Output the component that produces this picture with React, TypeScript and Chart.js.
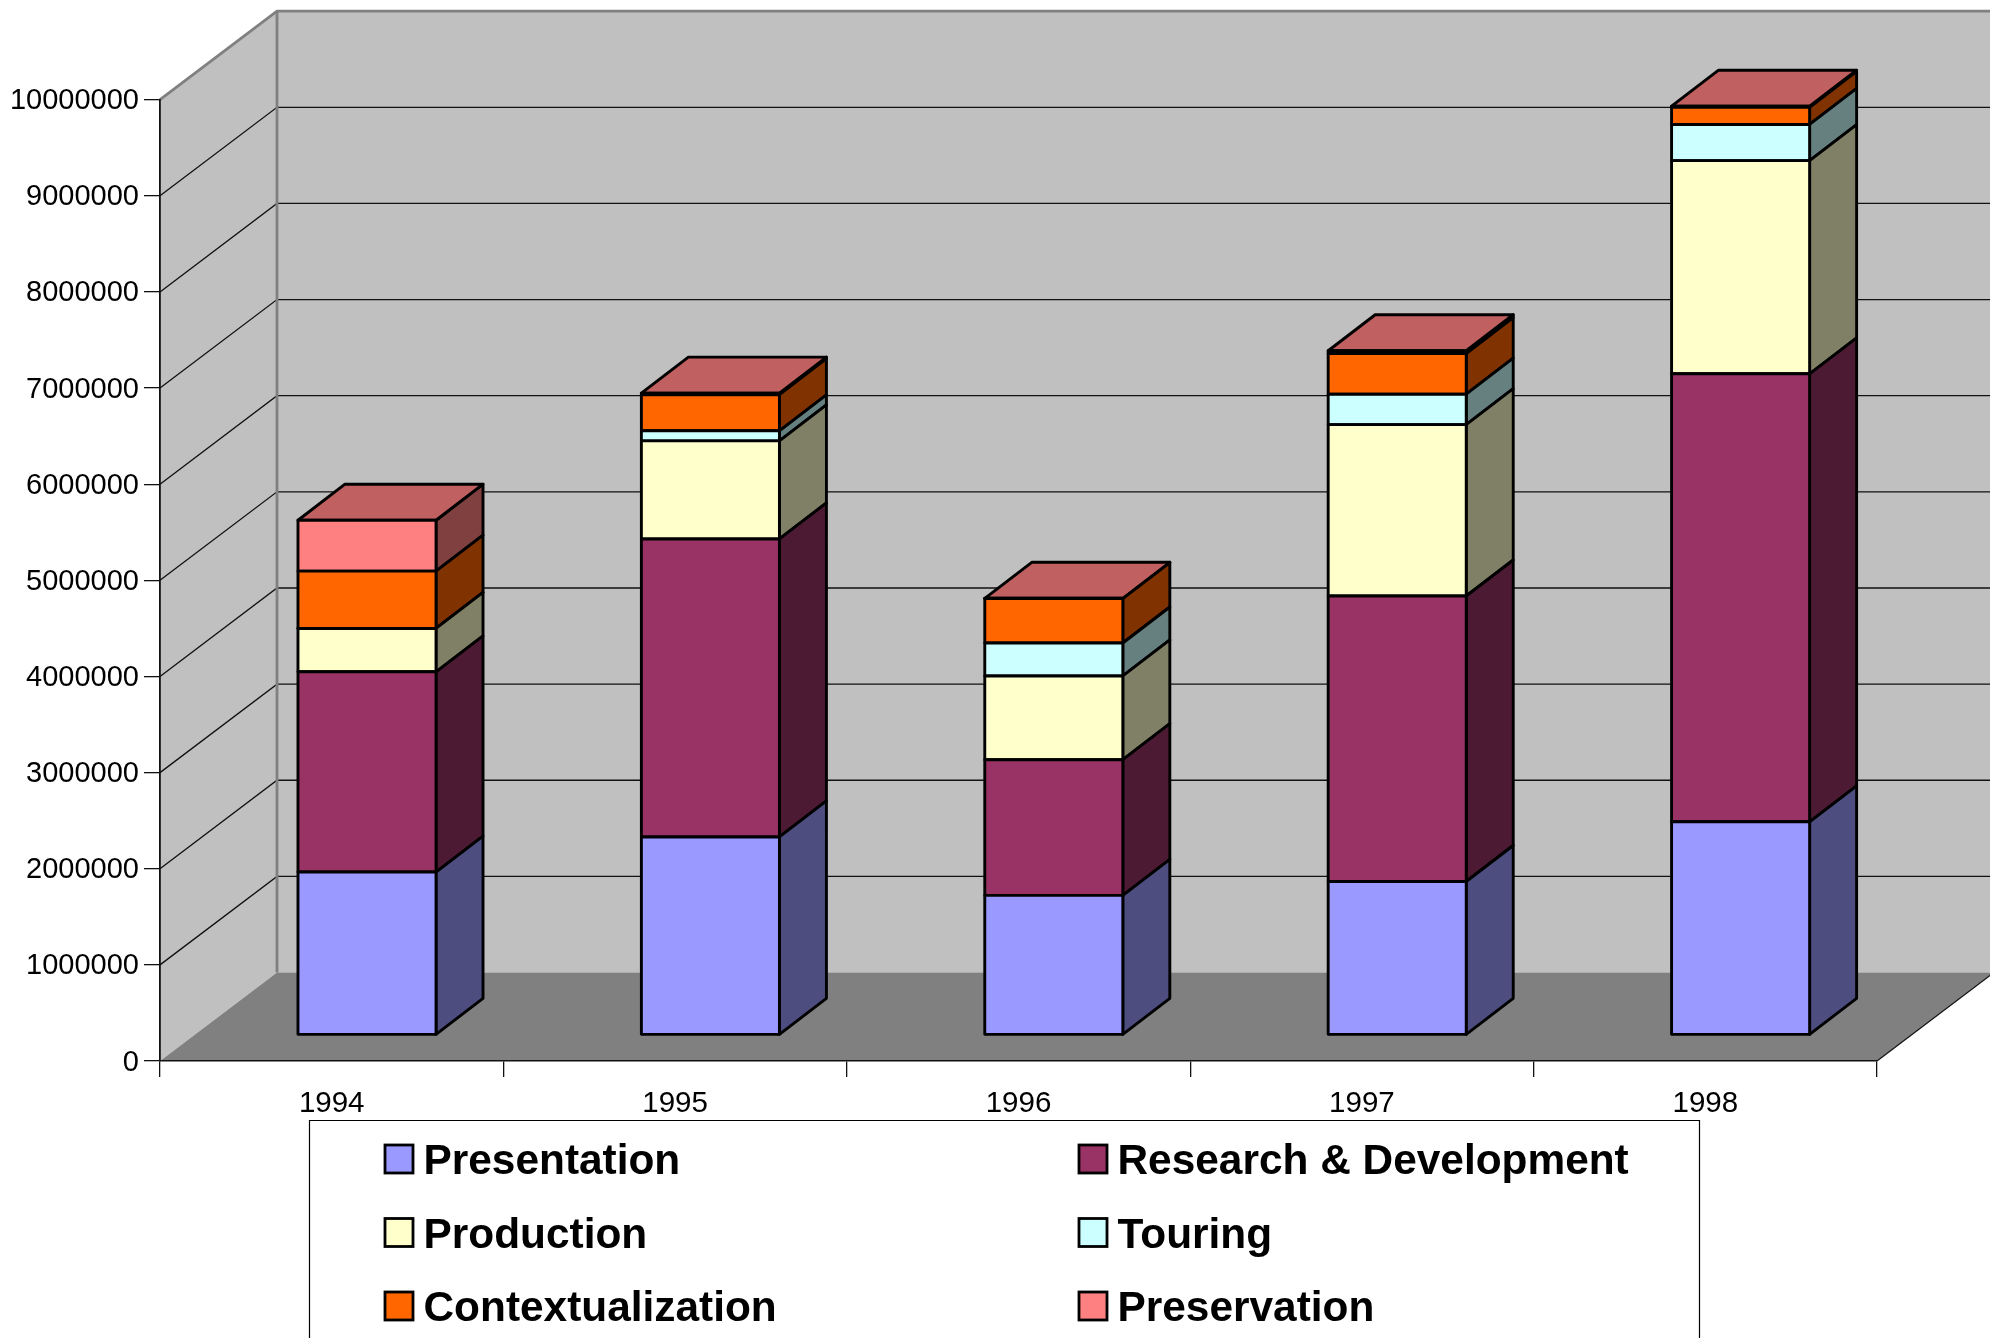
import React, { useEffect, useRef } from "react";
import { Chart, registerables } from "chart.js";

Chart.register(...registerables);

const years = ["1994", "1995", "1996", "1997", "1998"];
const presentation = [1695000, 2060000, 1452000, 1597000, 2218000];
const research = [2083000, 3100000, 1412000, 2970000, 4660000];
const production = [451000, 1020000, 871000, 1782000, 2218000];
const touring = [0, 105000, 343000, 317000, 376000];
const contextualization = [596000, 376000, 462000, 422000, 178000];
const preservation = [530000, 16000, 3000, 30000, 12000];

const seriesNames = ["Presentation", "Research & Development", "Production", "Touring", "Contextualization", "Preservation"];
const seriesColors = ["#9999FF", "#993366", "#FFFFCC", "#CCFFFF", "#FF6600", "#FF8080"];
const sideColors = ["#4D4D80", "#4D1A33", "#808066", "#668080", "#803300", "#804040"];
const topColor = "#C06060";

const W = 1990, H = 1338;
const AREA = { left: 160, top: 99.7, right: 1877, bottom: 1061 };
const WALL = { dx: 117, dy: -88.5 };
const BAR_OFFSET = { dx: 35.3, dy: -26 };
const BAR_DEPTH = { dx: 47, dy: -36 };
const OUTLINE = 2.9;

function poly(ctx: CanvasRenderingContext2D, pts: number[][]) {
  ctx.beginPath();
  pts.forEach((p, i) => (i ? ctx.lineTo(p[0], p[1]) : ctx.moveTo(p[0], p[1])));
  ctx.closePath();
}

const wallsPlugin = {
  id: "walls",
  beforeDraw(chart: any) {
    const ctx = chart.ctx as CanvasRenderingContext2D;
    const { left, top, right, bottom } = chart.chartArea;
    const { dx, dy } = WALL;
    ctx.save();
    ctx.fillStyle = "#FFFFFF";
    ctx.fillRect(0, 0, W, H);
    ctx.fillStyle = "#C0C0C0";
    poly(ctx, [[left, top], [left + dx, top + dy], [left + dx, bottom + dy], [left, bottom]]);
    ctx.fill();
    ctx.fillRect(left + dx, top + dy, W - left - dx, bottom - top);
    ctx.fillStyle = "#808080";
    poly(ctx, [[left, bottom], [left + dx, bottom + dy], [right + dx, bottom + dy], [right, bottom]]);
    ctx.fill();

    const y = chart.scales.y;
    ctx.strokeStyle = "#111111";
    ctx.lineWidth = 1.3;
    y.ticks.forEach((t: any) => {
      if (t.value === 0 || t.value === y.max) return;
      const py = y.getPixelForValue(t.value);
      ctx.beginPath();
      ctx.moveTo(left, py);
      ctx.lineTo(left + dx, py + dy);
      ctx.lineTo(W, py + dy);
      ctx.stroke();
    });

    ctx.strokeStyle = "#808080";
    ctx.lineWidth = 2.8;
    ctx.beginPath();
    ctx.moveTo(left, top);
    ctx.lineTo(left + dx, top + dy);
    ctx.lineTo(W, top + dy);
    ctx.moveTo(left + dx, top + dy);
    ctx.lineTo(left + dx, bottom + dy);
    ctx.stroke();

    ctx.strokeStyle = "#111111";
    ctx.lineWidth = 1.2;
    ctx.beginPath();
    ctx.moveTo(right, bottom);
    ctx.lineTo(right + dx, bottom + dy);
    ctx.stroke();
    ctx.restore();
  },
};

const boxesPlugin = {
  id: "boxes",
  beforeDatasetDraw(chart: any, args: any) {
    const ctx = chart.ctx as CanvasRenderingContext2D;
    const i = args.index;
    ctx.save();
    ctx.translate(BAR_OFFSET.dx, BAR_OFFSET.dy);
    const { dx, dy } = BAR_DEPTH;
    ctx.lineWidth = OUTLINE;
    ctx.lineJoin = "round";
    ctx.strokeStyle = "#000000";
    args.meta.data.forEach((el: any) => {
      const r = el.x + el.width / 2;
      const l = el.x - el.width / 2;
      ctx.fillStyle = sideColors[i];
      poly(ctx, [[r, el.y], [r + dx, el.y + dy], [r + dx, el.base + dy], [r, el.base]]);
      ctx.fill();
      ctx.stroke();
      if (i === chart.data.datasets.length - 1) {
        ctx.fillStyle = topColor;
        poly(ctx, [[l, el.y], [l + dx, el.y + dy], [r + dx, el.y + dy], [r, el.y]]);
        ctx.fill();
        ctx.stroke();
      }
    });
  },
  afterDatasetDraw(chart: any, args: any) {
    const ctx = chart.ctx as CanvasRenderingContext2D;
    ctx.lineWidth = OUTLINE;
    ctx.strokeStyle = "#000000";
    ctx.lineJoin = "round";
    args.meta.data.forEach((el: any) => {
      ctx.strokeRect(el.x - el.width / 2, el.y, el.width, el.base - el.y);
    });
    ctx.restore();
  },
};

const legendPlugin = {
  id: "boxLegend",
  afterDraw(chart: any) {
    const ctx = chart.ctx as CanvasRenderingContext2D;
    ctx.save();
    ctx.strokeStyle = "#000000";
    ctx.lineWidth = 1.2;
    ctx.beginPath();
    ctx.moveTo(309.5, H + 2);
    ctx.lineTo(309.5, 1120.5);
    ctx.lineTo(1699.5, 1120.5);
    ctx.lineTo(1699.5, H + 2);
    ctx.stroke();
    const colX = [385, 1079];
    const rowY = [1145, 1218.5, 1292];
    ctx.font = 'bold 42.4px "Liberation Sans"';
    ctx.textBaseline = "alphabetic";
    ctx.textAlign = "left";
    chart.data.datasets.forEach((ds: any, i: number) => {
      const x = colX[i % 2];
      const y = rowY[Math.floor(i / 2)];
      ctx.fillStyle = ds.backgroundColor;
      ctx.fillRect(x, y, 28, 28);
      ctx.strokeStyle = "#000000";
      ctx.lineWidth = 2.8;
      ctx.strokeRect(x, y, 28, 28);
      ctx.fillStyle = "#000000";
      ctx.fillText(ds.label, x + 38.5, y + 29);
    });
    ctx.restore();
  },
};

export default function App() {
  const ref = useRef<HTMLCanvasElement>(null);
  useEffect(() => {
    document.body.style.margin = "0";
    const values = [presentation, research, production, touring, contextualization, preservation];
    const chart = new Chart(ref.current!, {
      type: "bar",
      data: {
        labels: years,
        datasets: values.map((data, i) => ({
          label: seriesNames[i],
          data,
          backgroundColor: seriesColors[i],
          borderWidth: 0,
          inflateAmount: 0,
          categoryPercentage: 1,
          barPercentage: 0.402,
          clip: false,
        })),
      },
      options: {
        responsive: false,
        animation: false,
        events: [],
        layout: { padding: { top: AREA.top, right: W - AREA.right, left: 0, bottom: 0 } },
        plugins: { legend: { display: false }, title: { display: false }, tooltip: { enabled: false } },
        scales: {
          x: {
            stacked: true,
            afterFit: (s: any) => { s.height = H - AREA.bottom; },
            grid: { drawOnChartArea: false, drawTicks: true, tickLength: 16, color: "#111111", lineWidth: 1.3 },
            border: { color: "#111111", width: 1.5 },
            ticks: { color: "#000000", padding: 9.5, maxRotation: 0, autoSkip: false, font: { family: "Liberation Sans", size: 29.5 } },
          },
          y: {
            stacked: true,
            min: 0,
            max: 10000000,
            afterFit: (s: any) => { s.width = AREA.left; },
            grid: { drawOnChartArea: false, drawTicks: true, tickLength: 16, color: "#111111", lineWidth: 1.3 },
            border: { color: "#111111", width: 1.8 },
            ticks: {
              stepSize: 1000000,
              color: "#000000",
              padding: 5,
              labelOffset: 1.5,
              callback: (v: any) => String(v),
              font: { family: "Liberation Sans", size: 29 },
            },
          },
        },
      },
      plugins: [wallsPlugin, boxesPlugin, legendPlugin],
    } as any);
    return () => chart.destroy();
  }, []);
  return <canvas ref={ref} width={W} height={H} style={{ display: "block", width: W, height: H }} />;
}
